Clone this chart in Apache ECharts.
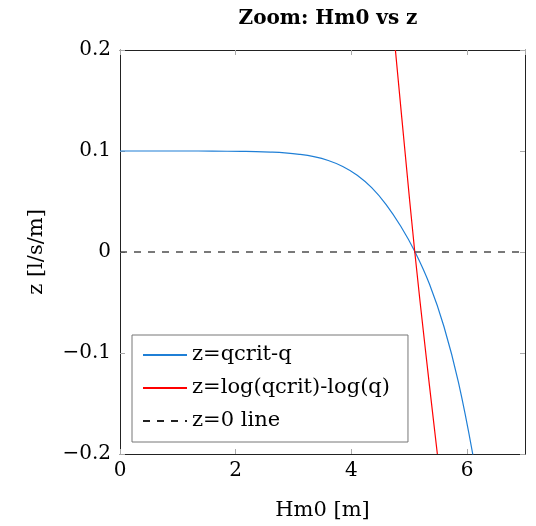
<!DOCTYPE html>
<html>
<head>
<meta charset="utf-8">
<script src="https://cdn.jsdelivr.net/npm/echarts@6/dist/echarts.min.js"></script>
<style>
  html, body { margin: 0; padding: 0; background: #fff; }
  #chart { width: 536px; height: 526px; }
</style>
</head>
<body>
<div id="chart"></div>
<script>
  // values
  const hm0Blue = [0, 0.6, 1.1, 1.6, 2.1, 2.35, 2.6, 2.85, 3.1, 3.35, 3.6, 3.85, 4.1, 4.35, 4.6, 4.85, 5.1, 5.35, 5.6, 5.85, 6.1]
  const zBlue = [0.1, 0.1, 0.1, 0.0999, 0.0996, 0.0994, 0.0989, 0.0981, 0.0967, 0.0944, 0.0906, 0.0847, 0.076, 0.0637, 0.047, 0.0257, 0, -0.032, -0.074, -0.129, -0.201]
  const hm0Red = [4.76, 4.925, 5.095, 5.285, 5.485]
  const zRed = [0.2, 0.1, 0, -0.1, -0.2]
  const hm0Zero = [0, 7]
  const zZero = [0, 0]

  const font = 'DejaVu Serif'
  const tickColor = '#aaaaaa'

  const pairs = (xs, ys) => xs.map((x, i) => [x, ys[i]])
  const fmtY = (v) => {
    if (Math.abs(v) < 1e-9) return '0'
    return (v < 0 ? '\u2212' : '') + Math.abs(v).toFixed(1)
  }

  const chart = echarts.init(document.getElementById('chart'))
  const option = {
    animation: false,
    title: {
      text: 'Zoom: Hm0 vs z',
      left: 323,
      textAlign: 'center',
      top: 4,
      textStyle: { fontFamily: font, fontWeight: 'bold', fontSize: 20, color: '#000' }
    },
    grid: { left: 120, right: 11, top: 50, bottom: 72 },
    legend: {
      orient: 'vertical',
      left: 132,
      top: 335,
      padding: [8, 18, 9, 10],
      itemWidth: 44,
      itemHeight: 14,
      itemGap: 9,
      backgroundColor: '#fff',
      borderColor: '#777',
      borderWidth: 1,
      borderRadius: 0,
      itemStyle: { opacity: 0 },
      textStyle: { fontFamily: font, fontSize: 21, color: '#000', lineHeight: 24 },
      data: ['z=qcrit-q', 'z=log(qcrit)-log(q)', 'z=0 line']
    },
    xAxis: [
      {
        type: 'value',
        min: 0,
        max: 7,
        interval: 2,
        name: 'Hm0 [m]',
        nameLocation: 'middle',
        nameGap: 46,
        nameTextStyle: { fontFamily: font, fontSize: 21, color: '#000' },
        axisLine: { show: true, onZero: false, lineStyle: { color: '#222', width: 1 } },
        axisTick: { show: true, inside: true, length: 5, lineStyle: { color: tickColor } },
        axisLabel: { fontFamily: font, fontSize: 20, color: '#000', margin: 7, showMaxLabel: false },
        splitLine: { show: false }
      },
      {
        type: 'value',
        position: 'top',
        min: 0,
        max: 7,
        interval: 2,
        axisLine: { show: true, onZero: false, lineStyle: { color: '#222', width: 1 } },
        axisTick: { show: true, inside: true, length: 5, lineStyle: { color: tickColor } },
        axisLabel: { show: false },
        splitLine: { show: false }
      }
    ],
    yAxis: [
      {
        type: 'value',
        min: -0.2,
        max: 0.2,
        interval: 0.1,
        name: 'z [l/s/m]',
        nameLocation: 'middle',
        nameGap: 73,
        nameTextStyle: { fontFamily: font, fontSize: 21, color: '#000' },
        axisLine: { show: true, onZero: false, lineStyle: { color: '#222', width: 1 } },
        axisTick: { show: true, inside: true, length: 5, lineStyle: { color: tickColor } },
        axisLabel: { fontFamily: font, fontSize: 20, color: '#000', margin: 9, formatter: fmtY },
        splitLine: { show: false }
      },
      {
        type: 'value',
        position: 'right',
        min: -0.2,
        max: 0.2,
        interval: 0.1,
        axisLine: { show: true, onZero: false, lineStyle: { color: '#222', width: 1 } },
        axisTick: { show: true, inside: true, length: 5, lineStyle: { color: tickColor } },
        axisLabel: { show: false },
        splitLine: { show: false }
      }
    ],
    series: [
      {
        name: 'z=qcrit-q',
        type: 'line',
        data: pairs(hm0Blue, zBlue),
        smooth: 0.4,
        symbol: 'none',
        clip: true,
        lineStyle: { color: '#1f7fd6', width: 1.2 },
        itemStyle: { color: '#1f7fd6' }
      },
      {
        name: 'z=log(qcrit)-log(q)',
        type: 'line',
        data: pairs(hm0Red, zRed),
        smooth: 0.4,
        symbol: 'none',
        clip: true,
        lineStyle: { color: '#ff0000', width: 1.2 },
        itemStyle: { color: '#ff0000' }
      },
      {
        name: 'z=0 line',
        type: 'line',
        data: pairs(hm0Zero, zZero),
        symbol: 'none',
        clip: true,
        z: 1,
        lineStyle: { color: '#222', width: 1.2, type: [7, 7] },
        itemStyle: { color: '#000' }
      }
    ]
  }
  chart.setOption(option)
  window.onresize = () => {
    chart.resize()
  }
</script>
</body>
</html>
